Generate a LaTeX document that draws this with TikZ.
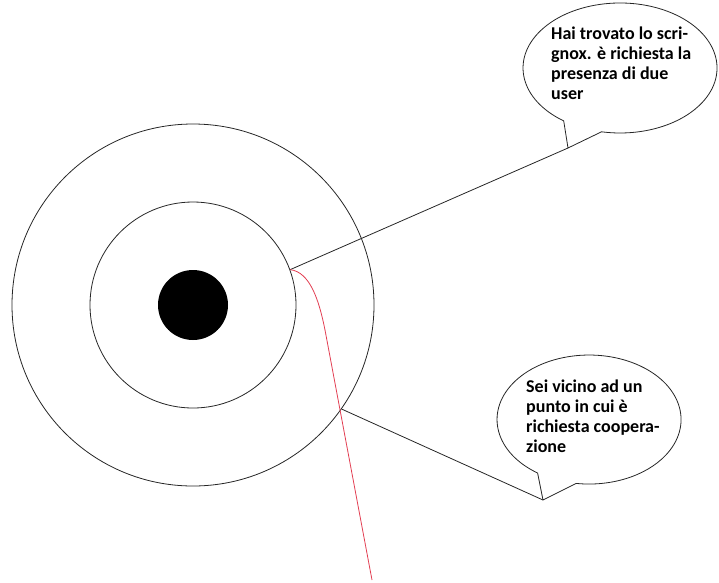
\documentclass[tikz,border=0pt]{standalone}
\usepackage{fontspec}
\setmainfont{Carlito}
\usepackage{xcolor}
\usepackage{tikz}
\usetikzlibrary{positioning, arrows.meta, calc}

\definecolor{trailred}{RGB}{226,62,82}

\begin{document}
\begin{tikzpicture}[
        x=1pt, y=-1pt,
        ring/.style={draw=black!85, circle, inner sep=0pt, line width=0.8pt},
        link/.style={draw=black!85, line width=0.8pt},
        trail/.style={draw=trailred, line width=0.8pt},
        bubble/.style={draw=black!85, line width=0.8pt, line join=round},
        msg/.style={font=\bfseries\fontsize{18}{20}\selectfont, align=left,
                    inner sep=0pt, anchor=north west}
    ]
    \useasboundingbox (0,0) rectangle (719,582);
    % target rings
    \node[ring, minimum size=362pt] (ringout) at (193,305) {};
    \node[ring, minimum size=206pt] (ringin) at (193,305) {};
    \node[circle, fill=black, inner sep=0pt, minimum size=70pt] (core) at (193,305) {};
    % bubble tips and end of the path
    \coordinate (tipA) at (568,148);
    \coordinate (tipB) at (543,500);
    \coordinate (trailend) at (372,580);
    % speech bubbles
    \draw[bubble] (tipA) -- (563.7,120.9)
        arc[start angle=125.5, end angle=461, x radius=97, y radius=65] -- cycle;
    \draw[bubble] (tipB) -- (537.6,473)
        arc[start angle=124, end angle=458, x radius=92, y radius=64.5] -- cycle;
    \node[msg] (msgA) at (551,27) {Hai trovato lo scri-\\gnox. è richiesta la\\presenza di due\\user};
    \node[msg] (msgB) at (526,380) {Sei vicino ad un\\punto in cui è\\richiesta coopera-\\zione};
    % connectors
    \draw[link] (ringin.20) -- (tipA);
    \draw[link] (ringout.-35) -- (tipB);
    % path of the user
    \draw[trail] (ringin.20) .. controls (310,272) and (319,300) .. (325,330) -- (trailend);
\end{tikzpicture}
\end{document}
